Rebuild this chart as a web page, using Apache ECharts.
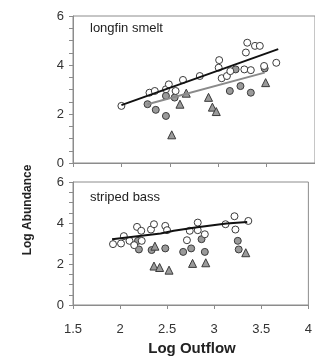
<!DOCTYPE html>
<html>
<head>
<meta charset="utf-8">
<script src="https://cdn.jsdelivr.net/npm/echarts@6/dist/echarts.min.js"></script>
<style>
  html, body { margin: 0; padding: 0; background: #fff; }
  #chart { width: 315px; height: 357px; }
</style>
</head>
<body>
<div id="chart"></div>
<script>
  // longfin smelt (top panel)
  var smeltOpen = [
    [2.0, 2.33], [2.29, 2.87], [2.345, 2.94], [2.46, 3.01], [2.49, 3.21], [2.56, 2.94],
    [2.636, 3.39], [2.81, 3.55], [3.01, 4.20], [3.005, 3.89], [3.036, 3.46], [3.09, 3.55],
    [3.125, 3.75], [3.27, 3.82], [3.337, 3.79], [3.286, 4.51], [3.30, 4.91],
    [3.38, 4.78], [3.43, 4.78], [3.474, 3.96], [3.60, 4.09]
  ];
  var smeltGray = [
    [2.27, 2.40], [2.355, 2.17], [2.46, 1.92], [2.46, 2.74], [2.55, 2.67],
    [3.12, 2.94], [3.18, 3.82], [3.23, 3.14], [3.337, 2.87], [3.48, 3.86]
  ];
  var smeltTri = [
    [2.52, 1.15], [2.605, 2.40], [2.67, 2.85], [2.90, 2.68], [2.94, 2.28], [2.98, 2.10], [3.49, 3.28]
  ];
  var smeltFitOpen = [[2.0, 2.36], [3.62, 4.65]];
  var smeltFitGray = [[2.27, 2.40], [3.48, 3.69]];

  // striped bass (bottom panel)
  var bassOpen = [
    [1.925, 2.97], [2.01, 3.00], [2.04, 3.36], [2.10, 3.13], [2.15, 2.92], [2.18, 3.81],
    [2.225, 3.62], [2.23, 3.13], [2.328, 3.68], [2.36, 3.94], [2.48, 3.86], [2.499, 3.65],
    [2.71, 3.16], [2.74, 3.62], [2.825, 4.02], [2.825, 3.65], [2.90, 3.45], [3.12, 3.94],
    [3.215, 4.33], [3.225, 3.68], [3.362, 4.10]
  ];
  var bassGray = [
    [2.19, 3.13], [2.20, 2.71], [2.335, 2.68], [2.48, 2.76], [2.67, 2.59],
    [2.755, 2.76], [2.865, 3.21], [2.90, 2.59], [3.25, 3.13], [3.26, 2.71]
  ];
  var bassTri = [
    [2.37, 2.87], [2.36, 1.90], [2.42, 1.83], [2.52, 1.70], [2.77, 2.03], [2.91, 2.06], [3.335, 2.55]
  ];
  var bassFit = [[1.915, 3.21], [2.43, 3.49], [2.57, 3.62], [2.80, 3.78], [3.13, 3.97], [3.35, 4.05]];

  var yTicks = [0, 2, 4, 6];
  var xTicks = [1.5, 2, 2.5, 3, 3.5, 4];

  var axisGray = '#8c8c8c';
  var textColor = '#333';
  var font = 'Liberation Sans, Arial, sans-serif';

  function xAxis(idx, showLabel) {
    return {
      type: 'value', gridIndex: idx, min: xTicks[0], max: xTicks[xTicks.length - 1], interval: 0.5,
      axisLine: { show: true, lineStyle: { color: axisGray, width: 1 } },
      axisTick: { show: true, length: 4, lineStyle: { color: axisGray } },
      axisLabel: { show: showLabel, color: textColor, fontSize: 13, fontFamily: font, margin: 18 },
      splitLine: { show: false }
    };
  }
  function yAxis(idx) {
    return {
      type: 'value', gridIndex: idx, min: yTicks[0], max: yTicks[yTicks.length - 1], interval: 2,
      axisLine: { show: true, lineStyle: { color: axisGray, width: 1 } },
      axisTick: { show: true, length: 4, lineStyle: { color: axisGray } },
      minorTick: { show: true, splitNumber: 4, length: 4, lineStyle: { color: axisGray } },
      axisLabel: { color: textColor, fontSize: 13, fontFamily: font, margin: 9 },
      splitLine: { show: false }
    };
  }
  function pts(data, idx, symbol, fill, size) {
    return {
      type: 'scatter', xAxisIndex: idx, yAxisIndex: idx, data: data,
      symbol: symbol, symbolSize: size, silent: true,
      itemStyle: { color: fill, borderColor: '#3a3a3a', borderWidth: 1, opacity: 1 }
    };
  }
  function fit(data, idx, color) {
    return {
      type: 'line', xAxisIndex: idx, yAxisIndex: idx, data: data, symbol: 'none', z: 5,
      lineStyle: { color: color, width: 2 }, silent: true
    };
  }

  var myChart = echarts.init(document.getElementById('chart'));
  var option = {
    animation: false,
    grid: [
      { left: 73, top: 16, width: 243, height: 147, show: true, borderColor: axisGray, borderWidth: 1 },
      { left: 73, top: 182, width: 243, height: 123, show: true, borderColor: axisGray, borderWidth: 1 }
    ],
    xAxis: [xAxis(0, false), xAxis(1, true)],
    yAxis: [yAxis(0), yAxis(1)],
    graphic: [
      { type: 'text', left: 90, top: 22, style: { text: 'longfin smelt', fill: '#222', font: '13px ' + font } },
      { type: 'text', left: 90, top: 191, style: { text: 'striped bass', fill: '#222', font: '13px ' + font } },
      { type: 'text', x: 28, y: 210, rotation: Math.PI / 2,
        style: { text: 'Log Abundance', fill: '#222', font: 'bold 12px ' + font, align: 'center', verticalAlign: 'middle' } },
      { type: 'text', x: 192, y: 349,
        style: { text: 'Log Outflow', fill: '#222', font: 'bold 15px ' + font, align: 'center', verticalAlign: 'middle' } }
    ],
    series: [
      pts(smeltGray, 0, 'circle', '#9a9a9a', 7),
      pts(smeltOpen, 0, 'circle', '#fff', 7),
      pts(smeltTri, 0, 'triangle', '#9a9a9a', 8),
      fit(smeltFitOpen, 0, '#111'),
      fit(smeltFitGray, 0, '#8a8a8a'),
      pts(bassGray, 1, 'circle', '#9a9a9a', 7),
      pts(bassOpen, 1, 'circle', '#fff', 7),
      pts(bassTri, 1, 'triangle', '#9a9a9a', 8),
      fit(bassFit, 1, '#111')
    ]
  };
  myChart.setOption(option);
</script>
</body>
</html>
